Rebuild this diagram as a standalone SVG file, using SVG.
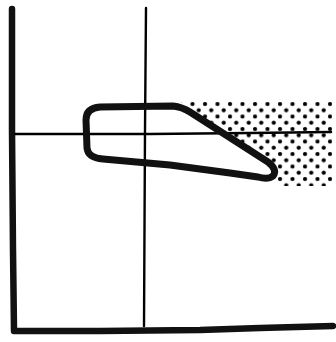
<svg xmlns="http://www.w3.org/2000/svg" width="336" height="342" viewBox="0 0 336 342">
<defs>
<pattern id="dots" patternUnits="userSpaceOnUse" x="2" y="1" width="12.5" height="12.5">
<circle cx="3" cy="3" r="2.1" fill="#000"/>
<circle cx="9.25" cy="9.25" r="2.1" fill="#000"/>
</pattern>
<style>
.axis{fill:none;stroke:#111;stroke-width:6.5;stroke-linecap:round;stroke-linejoin:round}
.thin{fill:none;stroke:#000;stroke-width:2.4;stroke-linecap:round}
.shape{stroke:#111;stroke-width:7;stroke-linejoin:round}
</style>
</defs>
<rect width="336" height="342" fill="#fff"/>
<g id="shading">
<polygon points="180,101 332,101 332,186 276,186 276,172 266,162 230,138 192,113" fill="url(#dots)"/>
</g>
<g id="shape-fill">
<path d="M100,107 L173,106 Q182,107 190,112 L268,162 Q278,170 273,176 Q268,180 258,177 L230,173 L170,165 L103,159 Q88,158 87,148 L86,120 Q86,108 100,107 Z" fill="#fff"/>
</g>
<g id="connectors">
<path class="axis" d="M12,9 L12,130 L13,250 L14,331 L100,331 L200,330 L260,328 L333,326"/>
<path class="thin" d="M146,8 L145,130 L144,326"/>
<path class="thin" d="M15,134 L150,134 L250,133 L331,132"/>
</g>
<g id="shape">
<path class="shape" fill="none" d="M100,107 L173,106 Q182,107 190,112 L268,162 Q278,170 273,176 Q268,180 258,177 L230,173 L170,165 L103,159 Q88,158 87,148 L86,120 Q86,108 100,107 Z"/>
</g>
</svg>
